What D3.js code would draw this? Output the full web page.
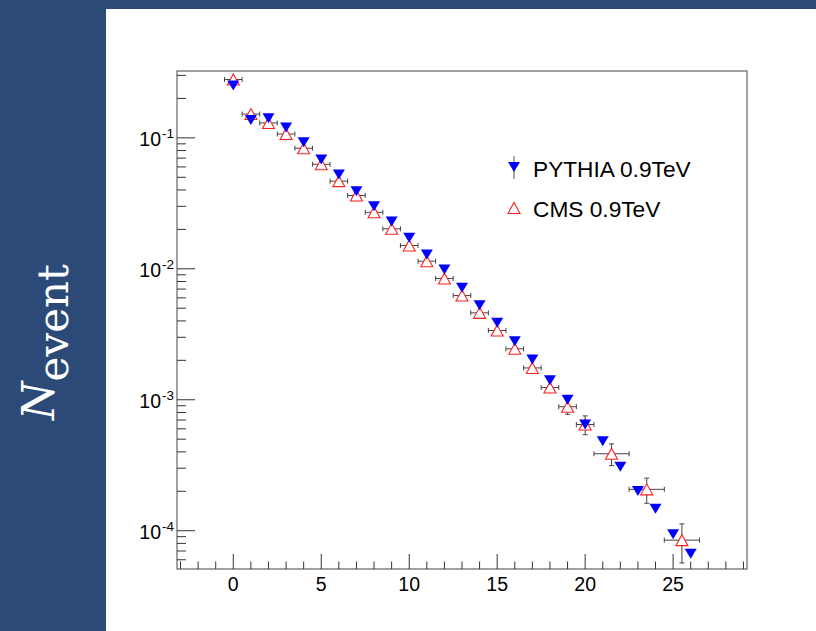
<!DOCTYPE html>
<html>
<head>
<meta charset="utf-8">
<script src="https://cdn.jsdelivr.net/npm/d3@7"></script>
<style>
  html, body { margin: 0; padding: 0; background: #2b4a77; }
  svg { display: block; }
  .tick-label { font-family: "Liberation Sans", Arial, sans-serif; fill: #000; }
  .legend-text { font-family: "Liberation Sans", Arial, sans-serif; font-size: 22.7px; fill: #000; }
</style>
</head>
<body>
<svg id="chart" width="816" height="631"></svg>
<script>
/* ============================================================
   Multiplicity distribution — PYTHIA vs CMS at 0.9 TeV
   ============================================================ */

/* ── Data ───────────────────────────────────────────────── */
const pythiaX = [0, 1, 2, 3, 4, 5, 6, 7, 8, 9, 10, 11, 12, 13, 14, 15, 16, 17, 18, 19, 20, 21, 22, 23, 24, 25, 26];
const pythiaY = [0.251, 0.137, 0.141, 0.120, 0.0925, 0.0682, 0.0525, 0.0391, 0.0301, 0.0230, 0.0173, 0.01286,
                 0.00988, 0.00716, 0.00527, 0.00387, 0.00280, 0.00203, 0.00141, 0.00100, 0.000648, 0.000483,
                 0.000308, 0.000201, 0.000147, 0.0000938, 0.0000667];

const cmsX    = [0, 1, 2, 3, 4, 5, 6, 7, 8, 9, 10, 11, 12, 13, 14, 15, 16, 17, 18, 19, 20, 21.5, 23.5, 25.5];
const cmsXErr = [0.5, 0.5, 0.5, 0.5, 0.5, 0.5, 0.5, 0.5, 0.5, 0.5, 0.5, 0.5, 0.5, 0.5, 0.5, 0.5, 0.5, 0.5, 0.5, 0.5, 0.5, 1, 1, 1];
const cmsY    = [0.279, 0.152, 0.130, 0.107, 0.0833, 0.0628, 0.0467, 0.0363, 0.0270, 0.0202, 0.01506, 0.01143,
                 0.00843, 0.00625, 0.00461, 0.00338, 0.00245, 0.00175, 0.00124, 0.000885, 0.000647,
                 0.000387, 0.000207, 0.0000847];
const cmsYErr = [0.003, 0.002, 0.0015, 0.0012, 0.001, 0.0008, 0.0006, 0.0005, 0.0004, 0.0003, 0.00025, 0.0002,
                 0.00017, 0.00014, 0.00012, 0.00012, 0.00014, 0.00016, 0.00012, 0.00011, 0.000106,
                 0.000073, 0.000045, 0.000028];

const xMajorTicks = [0, 5, 10, 15, 20, 25];
const yMajorTicks = [1e-1, 1e-2, 1e-3, 1e-4];
const yTickExp    = ['-1', '-2', '-3', '-4'];
const legendLabels = ['PYTHIA 0.9TeV', 'CMS 0.9TeV'];

/* ── Layout ─────────────────────────────────────────────── */
const frame = { left: 177, right: 747, top: 71, bottom: 569 };

const svg = d3.select('#chart');

svg.append('rect')
  .attr('width', 816).attr('height', 631)
  .attr('fill', '#2b4a77');

svg.append('rect')
  .attr('x', 106).attr('y', 9)
  .attr('width', 816 - 106).attr('height', 631 - 9)
  .attr('fill', '#ffffff');

/* ── Scales ─────────────────────────────────────────────── */
const x = d3.scaleLinear().domain([-3.2, 29.2]).range([frame.left, frame.right]);
const y = d3.scaleLog().domain([5.1e-5, 0.324]).range([frame.bottom, frame.top]);

/* ── Frame ──────────────────────────────────────────────── */
svg.append('rect')
  .attr('x', frame.left).attr('y', frame.top)
  .attr('width', frame.right - frame.left)
  .attr('height', frame.bottom - frame.top)
  .attr('fill', 'none')
  .attr('stroke', '#444')
  .attr('stroke-width', 1);

/* ── X axis ticks (inward) ──────────────────────────────── */
const xMinor = d3.range(-3, 30).filter(v => x(v) <= frame.right);
svg.append('g').selectAll('line')
  .data(xMinor)
  .join('line')
  .attr('x1', d => x(d)).attr('x2', d => x(d))
  .attr('y1', frame.bottom)
  .attr('y2', d => frame.bottom - (d % 5 === 0 ? 15 : 7.5))
  .attr('stroke', '#333').attr('stroke-width', 1);

svg.append('g').selectAll('text')
  .data(xMajorTicks)
  .join('text')
  .attr('class', 'tick-label')
  .attr('x', d => x(d))
  .attr('y', 591)
  .attr('text-anchor', 'middle')
  .attr('font-size', 19.5)
  .text(d => d);

/* ── Y axis ticks (log, inward) ─────────────────────────── */
const yMinor = [];
[1e-5, 1e-4, 1e-3, 1e-2, 1e-1].forEach(dec => {
  for (let k = 1; k <= 9; k++) {
    const v = dec * k;
    if (v >= y.domain()[0] && v <= y.domain()[1]) yMinor.push({ v, major: k === 1 });
  }
});
svg.append('g').selectAll('line')
  .data(yMinor)
  .join('line')
  .attr('x1', frame.left)
  .attr('x2', d => frame.left + (d.major ? 18 : 9))
  .attr('y1', d => y(d.v)).attr('y2', d => y(d.v))
  .attr('stroke', '#333').attr('stroke-width', 1);

const yLab = svg.append('g').selectAll('g')
  .data(yMajorTicks)
  .join('g')
  .attr('transform', d => `translate(0,${y(d)})`);

yLab.append('text')
  .attr('class', 'tick-label')
  .attr('x', 161).attr('y', 8)
  .attr('text-anchor', 'end')
  .attr('font-size', 19.5)
  .text('10');

yLab.append('text')
  .attr('class', 'tick-label')
  .attr('x', 162).attr('y', 0)
  .attr('font-size', 13.5)
  .text((d, i) => yTickExp[i]);

/* ── CMS points: error bars + open triangles ────────────── */
const cms = cmsX.map((v, i) => ({ x: v, xe: cmsXErr[i], y: cmsY[i], ye: cmsYErr[i] }));
const cap = 2.5;

const errG = svg.append('g').attr('stroke', '#444').attr('stroke-width', 1);
cms.forEach(d => {
  const cx = x(d.x), cy = y(d.y);
  const xl = x(d.x - d.xe), xr = x(d.x + d.xe);
  const yt = y(d.y + d.ye), yb = y(d.y - d.ye);
  errG.append('line').attr('x1', xl).attr('x2', xr).attr('y1', cy).attr('y2', cy);
  errG.append('line').attr('x1', xl).attr('x2', xl).attr('y1', cy - cap).attr('y2', cy + cap);
  errG.append('line').attr('x1', xr).attr('x2', xr).attr('y1', cy - cap).attr('y2', cy + cap);
  if (cy - yt > 6) {
    errG.append('line').attr('x1', cx).attr('x2', cx).attr('y1', yt).attr('y2', yb);
    errG.append('line').attr('x1', cx - cap).attr('x2', cx + cap).attr('y1', yt).attr('y2', yt);
    errG.append('line').attr('x1', cx - cap).attr('x2', cx + cap).attr('y1', yb).attr('y2', yb);
  }
});

const upTri = 'M0,-5.5L6,5.5L-6,5.5Z';
const downTri = 'M-6,-5L6,-5L0,5Z';

svg.append('g').selectAll('path')
  .data(cms)
  .join('path')
  .attr('d', upTri)
  .attr('transform', d => `translate(${x(d.x)},${y(d.y)})`)
  .attr('fill', '#fff')
  .attr('stroke', '#ff2020')
  .attr('stroke-width', 1.1);

/* ── PYTHIA points: filled blue triangles ───────────────── */
svg.append('g').selectAll('path')
  .data(pythiaX.map((v, i) => ({ x: v, y: pythiaY[i] })))
  .join('path')
  .attr('d', downTri)
  .attr('transform', d => `translate(${x(d.x)},${y(d.y)})`)
  .attr('fill', '#0000ff');

/* ── Legend ─────────────────────────────────────────────── */
const leg = svg.append('g');
leg.append('line')
  .attr('x1', 514).attr('x2', 514).attr('y1', 156).attr('y2', 179)
  .attr('stroke', '#555').attr('stroke-width', 1);
leg.append('path')
  .attr('d', downTri)
  .attr('transform', 'translate(514,167)')
  .attr('fill', '#0000ff');
leg.append('path')
  .attr('d', upTri)
  .attr('transform', 'translate(514,208)')
  .attr('fill', '#fff')
  .attr('stroke', '#ff2020')
  .attr('stroke-width', 1.1);
leg.selectAll('text')
  .data(legendLabels)
  .join('text')
  .attr('class', 'legend-text')
  .attr('x', 533)
  .attr('y', (d, i) => i === 0 ? 177 : 216.5)
  .text(d => d);

/* ── Y title: N_event ───────────────────────────────────── */
const title = svg.append('text')
  .attr('transform', 'translate(54,342) rotate(-90)')
  .attr('text-anchor', 'middle')
  .attr('fill', '#ffffff')
  .attr('font-family', '"DejaVu Serif", serif')
  .attr('font-size', 44);
title.append('tspan').attr('font-style', 'italic').text('N');
title.append('tspan').attr('dy', 14).attr('font-size', 42).text('event');
</script>
</body>
</html>
